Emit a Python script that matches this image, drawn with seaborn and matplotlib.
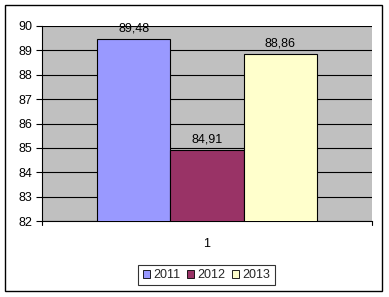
import matplotlib
matplotlib.use("Agg")
import matplotlib.pyplot as plt
import matplotlib.patches as mpatches
import seaborn as sns
import pandas as pd

categories = ["1"]
years = ["2011", "2012", "2013"]
values = [89.48, 84.91, 88.86]
colors = ["#9999FF", "#993366", "#FFFFCC"]
labels = ["89,48", "84,91", "88,86"]

df = pd.DataFrame({"cat": categories * 3, "year": years, "value": values})

sns.set_theme(style="white")
plt.rcParams['font.family'] = ['Liberation Sans', 'DejaVu Sans']

fig = plt.figure(figsize=(3.89, 2.97), dpi=100)
fig.patch.set_facecolor("white")
fig.add_artist(mpatches.Rectangle((5/389, 1-291/297), 377/389, 286/297,
                                  transform=fig.transFigure, fill=False,
                                  edgecolor="black", linewidth=1.0))
ax = fig.add_axes([42/389, 1-221/297, 330/389, 195/297])
ax.set_facecolor("#C0C0C0")

sns.barplot(data=df, x="cat", y="value", hue="year", palette=colors,
            saturation=1, width=0.664, gap=0, edgecolor="black", linewidth=0.8,
            ax=ax, legend=False, zorder=3)
ax.set_ylim(82, 90)
ax.set_xlim(-0.5, 0.5)
ax.set_yticks(range(82, 91))
ax.yaxis.grid(True, color="black", linewidth=0.8, zorder=0)
ax.set_axisbelow(True)
for s in ["top", "right"]:
    ax.spines[s].set_visible(False)
for s in ["left", "bottom"]:
    ax.spines[s].set_color("black")
    ax.spines[s].set_linewidth(0.8)
ax.tick_params(axis="y", direction="out", length=4, width=0.8, colors="black",
               labelsize=9, pad=3, left=True)
ax.set_xticks([0])
ax.set_xticklabels(categories)
ax.tick_params(axis="x", length=0, labelsize=9, pad=12, colors="black")
ax.set_xlabel("")
ax.set_ylabel("")
for xb in (-0.5, 0.5):
    ax.plot([xb, xb], [0, -0.02], transform=ax.get_xaxis_transform(),
            color="black", linewidth=0.8, clip_on=False)

for i, bar_container in enumerate(ax.containers):
    ax.bar_label(bar_container, labels=[labels[i]],
                 padding=3, fontsize=9, color="black")

handles = [mpatches.Patch(facecolor=c, edgecolor="black", linewidth=0.6, label=y)
           for c, y in zip(colors, years)]
leg = fig.legend(handles=handles, loc="center", bbox_to_anchor=(206.5/389, 1-275/297),
                 ncol=3, frameon=True, fontsize=9, handlelength=0.6, handleheight=0.6,
                 handletextpad=0.25, columnspacing=0.5, borderpad=0.35,
                 fancybox=False, edgecolor="black")
leg.get_frame().set_linewidth(0.8)

fig.savefig("out.png", dpi=100)
